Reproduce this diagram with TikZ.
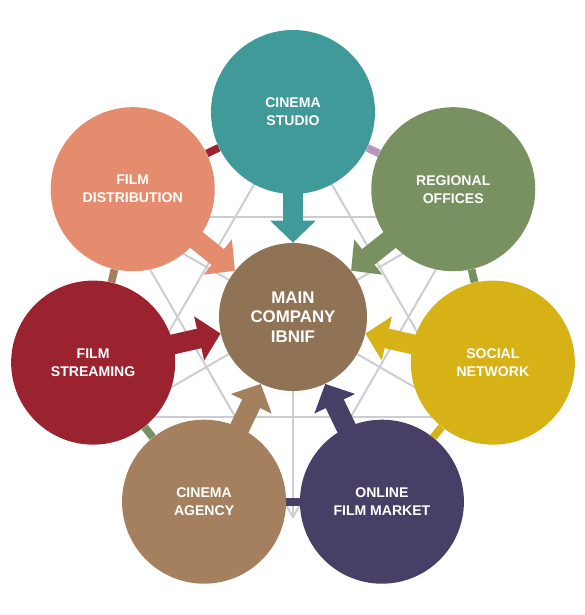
\documentclass[tikz,border=0pt]{standalone}
\usepackage{fontspec}
\setmainfont{Liberation Sans}
\usetikzlibrary{arrows.meta}
\usepackage{xcolor}
\definecolor{hubbrown}{RGB}{143, 115, 84}
\definecolor{studioteal}{RGB}{64, 154, 154}
\definecolor{officegreen}{RGB}{121, 145, 96}
\definecolor{socialgold}{RGB}{215, 178, 22}
\definecolor{marketpurple}{RGB}{72, 63, 103}
\definecolor{agencytan}{RGB}{165, 128, 95}
\definecolor{streamred}{RGB}{155, 35, 48}
\definecolor{distsalmon}{RGB}{230, 140, 110}
\definecolor{linklilac}{RGB}{182, 152, 192}
\definecolor{webgray}{RGB}{204, 204, 210}
\pgfdeclarelayer{back}
\pgfsetlayers{back,main}

\begin{document}
\begin{tikzpicture}[
    hub/.style={circle, minimum size=3.7cm, inner sep=0pt, align=center, text=white, font=\bfseries\fontsize{12}{14}\selectfont},
    unit/.style={circle, minimum size=4.1cm, inner sep=0pt, align=center, text=white, font=\bfseries\fontsize{10}{12.8}\selectfont},
    web/.style={draw=webgray, line width=1.4pt},
    link/.style={line width=5.5pt},
    arrow/.style={line width=0.5cm, -{Triangle[width=1.1cm, length=0.55cm]}},
]
\useasboundingbox (-7.325,-7.45) rectangle (7.3,7.925);

% Main company
\node[hub, fill=hubbrown] (hub) at (0,0) {MAIN\\COMPANY\\IBNIF};

% Units around it
\node[unit, fill=studioteal] (studio) at (90:5.125) {CINEMA\\STUDIO};
\node[unit, fill=officegreen] (offices) at (38.57:5.125) {REGIONAL\\OFFICES};
\node[unit, fill=socialgold] (social) at (-12.86:5.125) {SOCIAL\\NETWORK};
\node[unit, fill=marketpurple] (market) at (-64.29:5.125) {ONLINE\\FILM MARKET};
\node[unit, fill=agencytan] (agency) at (-115.71:5.125) {CINEMA\\AGENCY};
\node[unit, fill=streamred] (streaming) at (-167.14:5.125) {FILM\\STREAMING};
\node[unit, fill=distsalmon] (distribution) at (141.43:5.125) {FILM\\DISTRIBUTION};

\begin{pgfonlayer}{back}
% Web
\foreach \a in {30,90,...,330} \coordinate (w\a) at (\a:5);
\draw[web] (w90) -- (w210) -- (w330) -- cycle;
\draw[web] (w270) -- (w30) -- (w150) -- cycle;
\foreach \a in {30,90,...,330} \draw[web] (hub.center) -- (w\a);

% Ring links
\draw[link, streamred] (distribution) -- (studio);
\draw[link, linklilac] (studio) -- (offices);
\draw[link, officegreen] (offices) -- (social);
\draw[link, socialgold] (social) -- (market);
\draw[link, marketpurple] (market) -- (agency);
\draw[link, officegreen] (agency) -- (streaming);
\draw[link, agencytan] (streaming) -- (distribution);

% Arrows into the main company
\draw[arrow, studioteal] (studio.center) -- (hub);
\draw[arrow, officegreen] (offices.center) -- (hub);
\draw[arrow, socialgold] (social.center) -- (hub);
\draw[arrow, marketpurple] (market.center) -- (hub);
\draw[arrow, agencytan] (agency.center) -- (hub);
\draw[arrow, streamred] (streaming.center) -- (hub);
\draw[arrow, distsalmon] (distribution.center) -- (hub);
\end{pgfonlayer}

\end{tikzpicture}
\end{document}
